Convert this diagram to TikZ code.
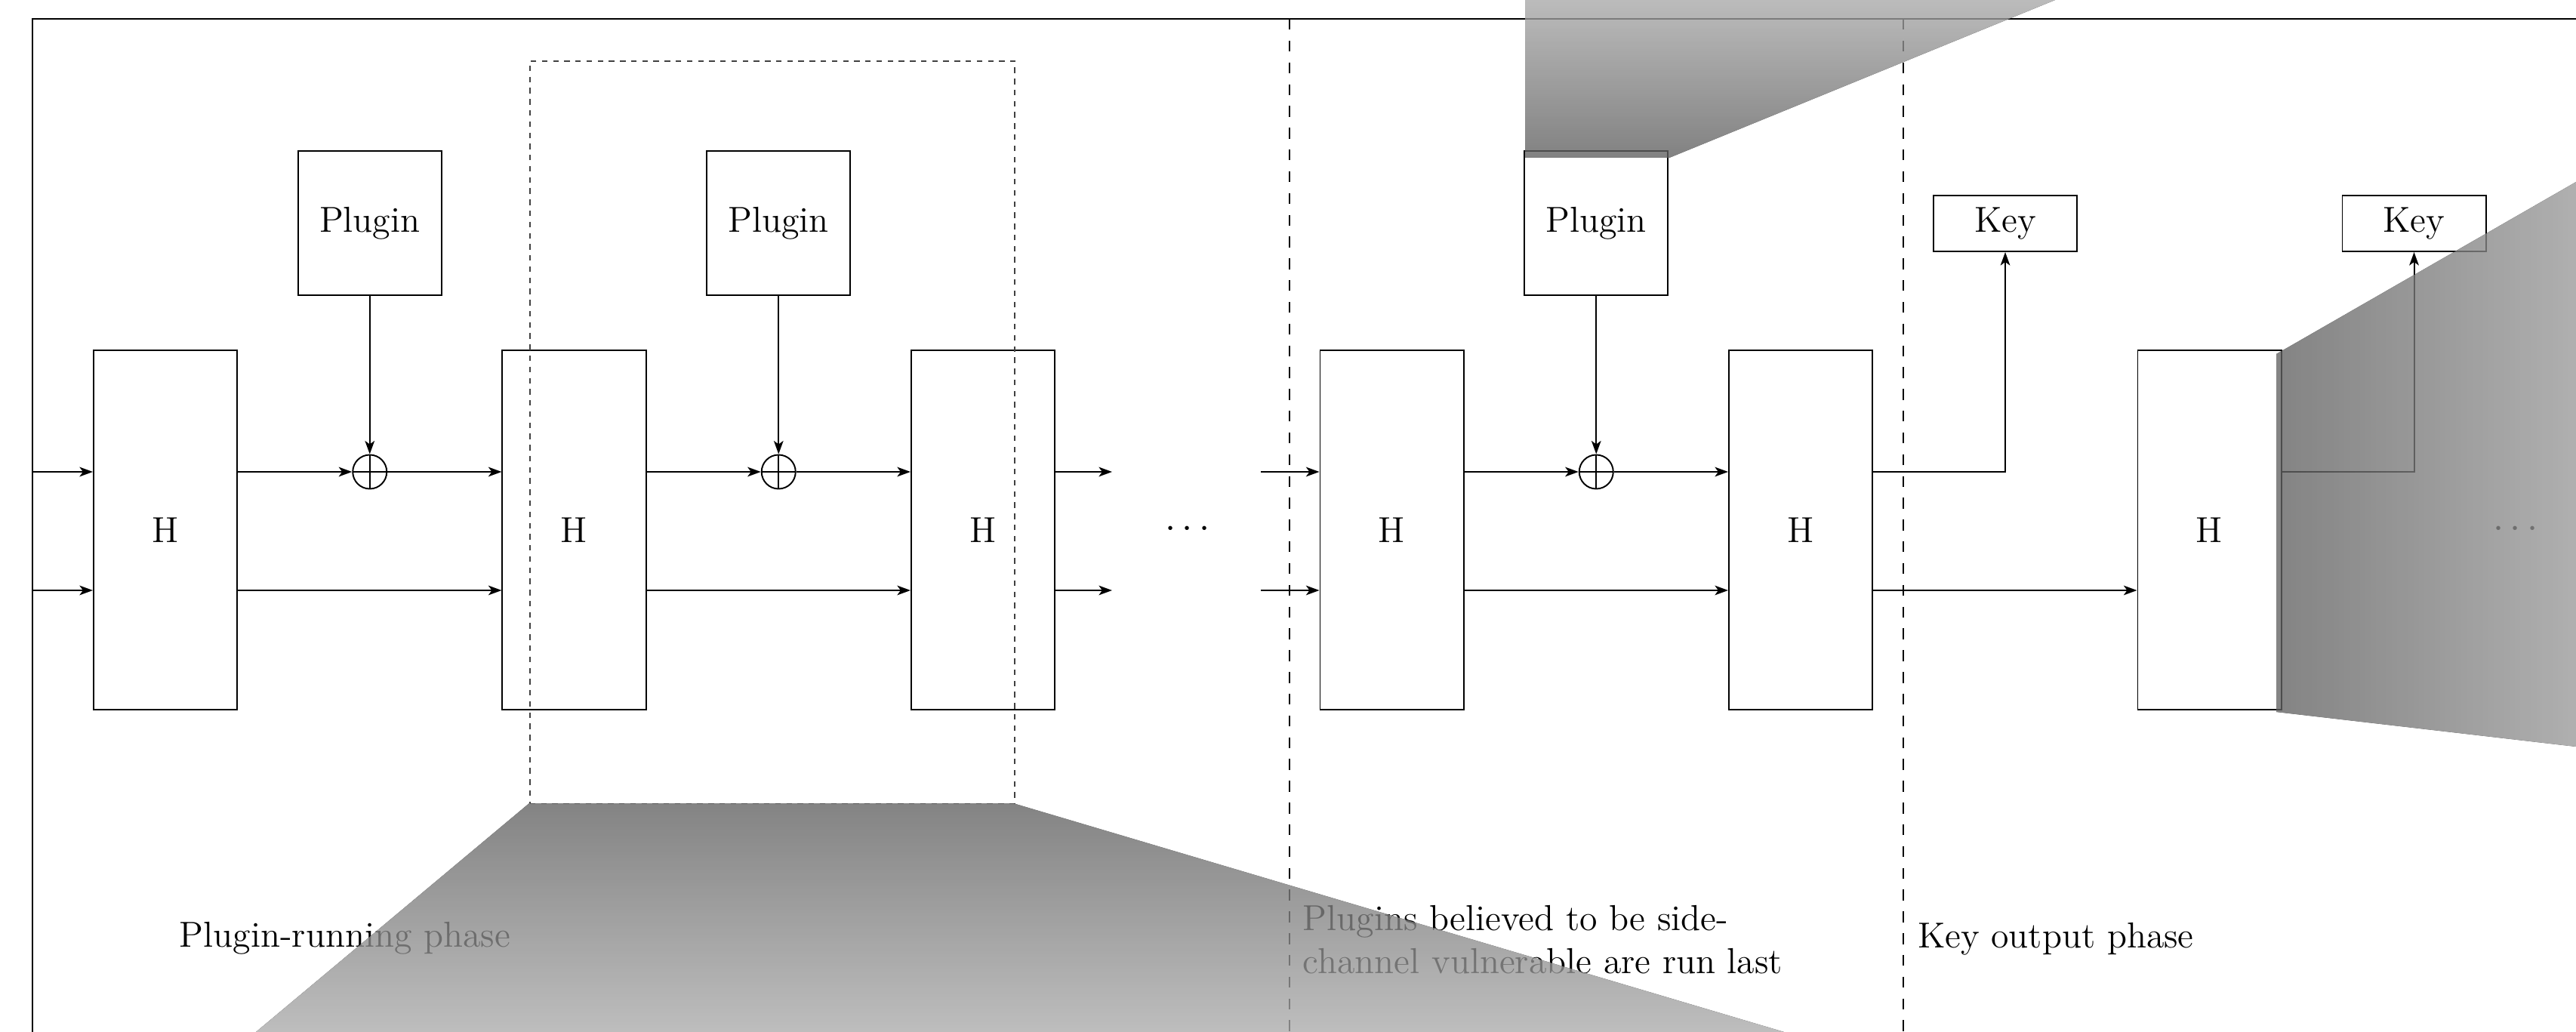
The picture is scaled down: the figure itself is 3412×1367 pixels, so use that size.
\documentclass[tikz,border=0pt]{standalone}
\usetikzlibrary{arrows.meta,calc}
\begin{document}
\begin{tikzpicture}[x=0.01cm, y=-0.01cm, line width=0.55pt,
  >={Stealth[length=5pt,width=3.6pt,inset=1.3pt]},
  every node/.style={font=\fontsize{13.6}{16.2}\selectfont},
  hbox/.style={draw, minimum width=1.9cm, minimum height=4.76cm, inner sep=0},
  plug/.style={draw, minimum width=1.9cm, minimum height=1.91cm, inner sep=0},
  keybox/.style={draw, minimum width=1.9cm, minimum height=0.74cm, inner sep=0},
  xorop/.style={draw, circle, minimum size=0.45cm, inner sep=0,
    path picture={\draw (path picture bounding box.north) -- (path picture bounding box.south)
                        (path picture bounding box.west) -- (path picture bounding box.east);}},
  phaseline/.style={dash pattern=on 4.1pt off 4.1pt},
  window/.style={draw=black!75, line width=0.45pt, dash pattern=on 2.1pt off 2.1pt,
    minimum width=6.42cm, minimum height=9.83cm, inner sep=0},
  label/.style={anchor=base west, inner sep=0},
  lens/.style={transparency group, opacity=0.78}
]
\clip (0,0) rectangle (3412,1367);

% outer frame
\draw (43,1400) -- (43,25) -- (3450,25);

% hash stages
\node[hbox] (h1) at (219,702) {H};
\node[hbox] (h2) at (760.5,702) {H};
\node[hbox] (h3) at (1302,702) {H};
\node[hbox] (h4) at (1843.5,702) {H};
\node[hbox] (h5) at (2385,702) {H};
\node[hbox] (h6) at (2926.5,702) {H};

% plugins and their xor points
\node[plug] (p1) at (489.75,295.5) {Plugin};
\node[plug] (p2) at (1031.25,295.5) {Plugin};
\node[plug] (p3) at (2114.25,295.5) {Plugin};
\node[xorop] (x1) at (489.75,625) {};
\node[xorop] (x2) at (1031.25,625) {};
\node[xorop] (x3) at (2114.25,625) {};

% key outputs
\node[keybox] (k1) at (2656,296) {Key};
\node[keybox] (k2) at (3197.5,296) {Key};

% ellipses
\node (d1) at (1573,701) {$\cdots$};
\node (d2) at (3332,701) {$\cdots$};

% loose ends of the two lanes
\coordinate (in1) at (43,625);
\coordinate (in2) at (43,782);
\coordinate (g1) at (1473,625);
\coordinate (g2) at (1473,782);
\coordinate (r1) at (1670,625);
\coordinate (r2) at (1670,782);

% input lanes
\draw[->] (in1) -- (in1 -| h1.west);
\draw[->] (in2) -- (in2 -| h1.west);

% stage 1 -> 2
\draw[->] (h1.east |- x1) -- (x1);
\draw[->] (x1) -- (x1 -| h2.west);
\draw[->] (h1.east |- in2) -- (h2.west |- in2);
\draw[->] (p1) -- (x1);

% stage 2 -> 3
\draw[->] (h2.east |- x2) -- (x2);
\draw[->] (x2) -- (x2 -| h3.west);
\draw[->] (h2.east |- in2) -- (h3.west |- in2);
\draw[->] (p2) -- (x2);

% stage 3 out, stage 4 in
\draw[->] (h3.east |- g1) -- (g1);
\draw[->] (h3.east |- g2) -- (g2);
\draw[->] (r1) -- (r1 -| h4.west);
\draw[->] (r2) -- (r2 -| h4.west);

% stage 4 -> 5
\draw[->] (h4.east |- x3) -- (x3);
\draw[->] (x3) -- (x3 -| h5.west);
\draw[->] (h4.east |- in2) -- (h5.west |- in2);
\draw[->] (p3) -- (x3);

% key output
\draw[->] (h5.east |- in1) -| (k1.south);
\draw[->] (h5.east |- in2) -- (h6.west |- in2);
\draw[->] (h6.east |- in1) -| (k2.south);

% phase separators
\coordinate (s1t) at (1708,25);
\coordinate (s1b) at (1708,1367);
\coordinate (s2t) at (2521,25);
\coordinate (s2b) at (2521,1367);
\draw[phaseline] (s1t) -- (s1b);
\draw[phaseline] (s2t) -- (s2b);

% highlighted stage window
\node[window] (win) at (1023,572.5) {};

% phase captions
\node[label] (c1) at (237,1254) {Plugin-running phase};
\node[label, align=left] (c2) at (1725,1289) {Plugins believed to be side-\\channel vulnerable are run last};
\node[label] (c3) at (2539,1255) {Key output phase};

% shaded projection wedges
\begin{scope}[lens]
\fill[top color=black!62, bottom color=black!33]
  (701,1064) -- (1342,1064) -- (2363,1367) -- (339,1367) -- cycle;
\end{scope}
\begin{scope}[lens]
\fill[top color=black!34, bottom color=black!63]
  (2020,209) -- (2211,209) -- (2722,0) -- (2020,0) -- cycle;
\end{scope}
\begin{scope}[lens]
\fill[left color=black!62, right color=black!40]
  (3015,469) -- (3412,241) -- (3412,989) -- (3015,943) -- cycle;
\end{scope}
\end{tikzpicture}
\end{document}
